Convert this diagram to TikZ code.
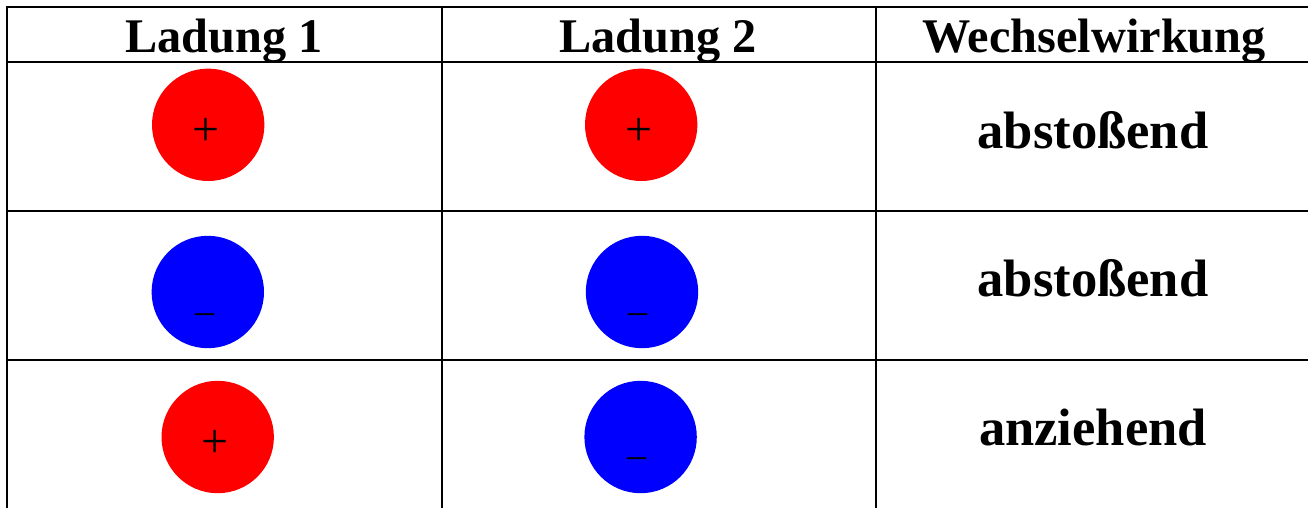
\documentclass[tikz,border=0pt]{standalone}
\usepackage{fontspec}
\setmainfont{Liberation Serif}
\begin{document}
\begin{tikzpicture}[x=1pt,y=-1pt,
  gridline/.style={line width=2.2pt, black},
  headtext/.style={anchor=base, inner sep=0pt, font=\fontsize{48.3}{48}\selectfont\bfseries},
  celltext/.style={anchor=base, inner sep=0pt, font=\fontsize{52.6}{52}\selectfont\bfseries},
  charge/.style={circle, inner sep=0pt, minimum size=112.4pt, draw=none},
  poscharge/.style={charge, fill=red},
  negcharge/.style={charge, fill=blue},
  plussign/.style={anchor=center, inner sep=0pt, font=\fontsize{48}{48}\selectfont},
  minussign/.style={anchor=base, inner sep=0pt, font=\fontsize{38}{38}\selectfont}]
\clip (0,0) rectangle (1308,507);
\fill[white] (0,0) rectangle (1308,507);
% grid
\draw[gridline] (7,7) -- (1320,7);
\draw[gridline] (7,62) -- (1320,62);
\draw[gridline] (7,211) -- (1320,211);
\draw[gridline] (7,359.8) -- (1320,359.8);
\draw[gridline] (7,5.9) -- (7,520);
\draw[gridline] (441.8,7) -- (441.8,520);
\draw[gridline] (875.7,7) -- (875.7,520);
% header
\node[headtext] (h1) at (224,52) {Ladung 1};
\node[headtext] (h2) at (658,52) {Ladung 2};
\node[headtext] (h3) at (1094,52) {Wechselwirkung};
% row 1
\node[poscharge] (c11) at (208.2,124.8) {};
\node[plussign] (s11) at (206,132) {+};
\node[poscharge] (c12) at (641.2,124.8) {};
\node[plussign] (s12) at (638.7,132) {+};
\node[celltext] (w1) at (1093,148.3) {abstoßend};
% row 2
\node[negcharge] (c21) at (207.8,292) {};
\node[minussign] (s21) at (204.5,323.3) {–};
\node[negcharge] (c22) at (642,292) {};
\node[minussign] (s22) at (638.3,323.3) {–};
\node[celltext] (w2) at (1093,296.7) {abstoßend};
% row 3
\node[poscharge] (c31) at (217.7,437) {};
\node[plussign] (s31) at (215.3,444) {+};
\node[negcharge] (c32) at (640.6,437) {};
\node[minussign] (s32) at (637,467.7) {–};
\node[celltext] (w3) at (1093,445) {anziehend};
\end{tikzpicture}
\end{document}
